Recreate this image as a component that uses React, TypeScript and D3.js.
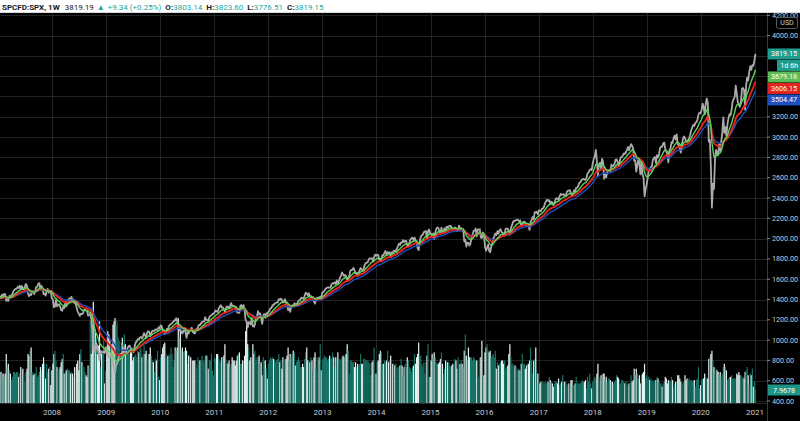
import React from 'react';
import * as d3 from 'd3';

// Weekly closes (SPCFD:SPX, 1W), one array per calendar year
const closes2007 = [1409,1431,1431,1422,1448,1438,1455,1451,1387,1402,1386,1436,1421,1443,1452,1484,1494,1505,1505,1523,1515,1536,1507,1533,1502,1503,1530,1553,1534,1459,1433,1453,1445,1479,1474,1454,1484,1525,1527,1557,1561,1501,1535,1509,1453,1458,1440,1481,1504,1467,1484,1478];
const closes2008 = [1411,1401,1325,1331,1395,1332,1350,1353,1331,1294,1289,1330,1316,1370,1333,1390,1398,1413,1389,1427,1376,1400,1361,1361,1318,1278,1262,1239,1260,1257,1261,1297,1298,1292,1283,1242,1252,1255,1213,1099,899,940,877,968,930,873,800,896,876,880,887,872];
const closes2009 = [931,890,850,832,826,869,827,770,735,683,756,769,816,843,857,870,866,877,929,882,887,919,940,946,921,918,896,879,940,979,987,1010,1005,1026,1029,1016,1042,1068,1044,1025,1072,1087,1080,1036,1069,1093,1091,1092,1106,1102,1102,1126,1115];
const closes2010 = [1145,1136,1091,1074,1066,1075,1109,1105,1139,1150,1159,1167,1178,1194,1192,1217,1187,1111,1136,1087,1089,1064,1092,1117,1076,1022,1078,1065,1102,1101,1122,1079,1071,1065,1105,1110,1125,1149,1147,1166,1176,1183,1183,1225,1199,1199,1190,1225,1240,1243,1257,1258];
const closes2011 = [1271,1293,1283,1276,1310,1329,1343,1320,1321,1304,1279,1313,1332,1328,1319,1337,1364,1340,1338,1333,1331,1300,1271,1271,1268,1340,1344,1316,1345,1292,1199,1179,1124,1177,1174,1154,1216,1136,1131,1155,1224,1238,1285,1253,1263,1216,1159,1244,1255,1219,1265,1258];
const closes2012 = [1278,1289,1315,1316,1345,1343,1361,1366,1370,1371,1404,1397,1408,1398,1370,1378,1403,1369,1353,1295,1318,1278,1325,1343,1335,1362,1355,1357,1363,1386,1391,1406,1418,1411,1407,1438,1466,1460,1441,1461,1428,1433,1412,1414,1380,1359,1409,1416,1418,1413,1430,1402];
const closes2013 = [1470,1472,1486,1503,1513,1518,1520,1516,1518,1552,1561,1556,1569,1553,1588,1555,1582,1614,1633,1667,1650,1631,1643,1626,1593,1606,1632,1680,1692,1692,1710,1691,1655,1664,1633,1655,1688,1710,1692,1691,1703,1745,1760,1762,1771,1798,1804,1806,1805,1775,1818,1841];
const closes2014 = [1831,1842,1838,1790,1783,1797,1838,1836,1859,1878,1841,1866,1857,1865,1815,1864,1863,1882,1878,1878,1900,1924,1950,1937,1963,1961,1985,1967,1978,1978,1925,1931,1955,1988,2003,2008,1985,2010,1982,1968,1906,1887,1965,2018,2032,2039,2064,2068,2075,2003,2071,2089];
const closes2015 = [2058,2044,2019,2051,1995,2055,2097,2110,2105,2071,2053,2108,2061,2067,2102,2081,2117,2108,2123,2123,2126,2107,2092,2094,2110,2102,2077,2077,2127,2079,2104,2078,2092,1971,1989,1921,1961,1958,1931,1951,2015,2033,2075,2079,2099,2023,2089,2090,2092,2012,2006,2061,2044];
const closes2016 = [1922,1880,1907,1940,1880,1865,1918,1948,1999,2022,2050,2035,2073,2048,2081,2092,2065,2057,2047,2052,2099,2099,2096,2071,2037,2103,2130,2162,2175,2174,2183,2184,2184,2169,2180,2128,2139,2165,2168,2153,2133,2141,2126,2085,2164,2182,2213,2192,2260,2258,2264,2239];
const closes2017 = [2277,2275,2271,2295,2297,2316,2351,2367,2383,2373,2378,2344,2363,2355,2329,2349,2384,2399,2391,2382,2416,2439,2432,2433,2438,2423,2425,2459,2473,2472,2476,2441,2426,2443,2477,2461,2500,2502,2519,2549,2553,2575,2581,2588,2582,2579,2602,2642,2652,2676,2684,2674];
const closes2018 = [2743,2786,2810,2873,2762,2620,2732,2747,2691,2786,2752,2588,2641,2604,2656,2670,2670,2663,2728,2713,2721,2735,2779,2780,2755,2718,2760,2801,2802,2819,2840,2833,2850,2875,2902,2872,2905,2930,2914,2886,2767,2768,2659,2723,2781,2736,2633,2760,2633,2600,2417,2486];
const closes2019 = [2532,2596,2671,2665,2707,2708,2776,2793,2804,2743,2822,2800,2834,2893,2907,2905,2940,2946,2881,2860,2826,2752,2873,2887,2950,2942,2990,3014,2977,3026,2932,2919,2889,2847,2926,2979,3007,2992,2962,2953,2970,2986,3023,3067,3093,3120,3110,3141,3146,3169,3221,3240];
const closes2020 = [3235,3265,3330,3295,3226,3328,3380,3338,2954,2972,2711,2305,2541,2489,2790,2875,2837,2831,2930,2864,2955,3044,3194,3041,3098,3009,3130,3185,3225,3216,3271,3351,3373,3397,3508,3427,3341,3319,3298,3348,3477,3484,3465,3270,3510,3585,3558,3638,3699,3663,3709,3703,3756];
const closes2021 = [3819.15];

// Weekly volume (billions)
const vol2007 = [18,17,19,19,18,18,16,18,30,22,24,20,18,14,16,19,19,18,19,19,16,18,22,20,21,18,13,19,21,30,29,32,34,19,17,18,18,22,16,17,19,22,20,24,28,24,15,24,19,21,22,11];
const vol2008 = [20,24,30,32,26,22,20,21,22,25,27,30,18,19,20,21,20,20,18,19,18,16,22,21,24,26,20,30,33,25,23,22,19,17,16,23,22,50,30,48,62,50,45,40,30,35,50,22,30,32,38,12];
const vol2009 = [20,32,44,42,38,37,36,48,50,52,47,50,40,38,30,37,40,36,42,36,32,30,32,30,34,31,26,28,29,30,28,32,31,33,34,28,30,35,30,32,26,30,30,34,29,26,25,19,27,26,32,16,14];
const vol2010 = [28,30,34,36,37,30,28,29,29,30,34,30,22,26,34,32,34,52,40,46,32,34,31,32,34,32,24,29,29,28,26,26,26,26,24,21,28,26,26,26,29,26,25,29,29,29,21,26,26,30,20,17];
const vol2011 = [28,27,30,30,28,26,25,28,28,29,36,26,25,24,26,22,24,28,26,26,23,26,29,30,31,24,24,26,26,29,44,50,36,34,26,28,28,36,30,32,26,28,28,29,24,25,17,28,26,26,21,15];
const vol2012 = [24,26,28,27,28,27,26,25,26,27,30,25,26,21,28,27,26,27,29,34,26,30,28,30,32,31,23,25,26,28,26,22,22,24,22,27,31,34,26,25,25,28,26,20,28,31,21,28,26,28,36,20];
const vol2013 = [26,27,29,28,28,26,27,29,28,27,31,28,22,28,27,31,26,27,26,28,29,28,29,30,36,32,18,26,26,25,25,22,25,22,24,23,24,30,24,24,27,27,26,26,26,25,24,17,25,26,34,18];
const vol2014 = [18,25,26,30,32,31,24,24,26,25,26,32,25,26,29,22,24,24,23,24,21,22,22,23,27,23,17,22,24,22,28,26,22,21,19,22,23,30,24,28,30,37,28,29,24,22,25,18,25,29,36,16];
const vol2015 = [16,26,30,28,31,28,25,24,24,25,27,31,24,18,21,26,25,25,25,23,22,23,24,23,27,26,21,28,24,24,26,24,22,32,42,29,26,34,28,28,28,26,28,27,26,26,26,16,28,28,38,16,17];
const vol2016 = [31,34,36,32,31,32,28,29,30,28,32,21,25,23,24,25,26,26,24,26,21,22,23,30,36,28,24,24,22,23,22,20,21,20,20,24,30,24,24,21,23,24,24,26,34,26,18,26,27,34,20,18];
const vol2017 = [12,12,13,12,13,12,13,12,13,13,16,14,13,12,10,12,13,13,12,15,11,12,13,17,13,13,10,12,11,12,12,14,14,11,11,12,16,12,12,12,12,13,14,13,13,14,9,16,13,18,12,9];
const vol2018 = [13,14,16,15,18,24,16,14,17,15,18,18,14,16,13,15,15,14,13,13,12,13,14,17,16,15,11,12,14,14,13,12,13,12,11,12,12,17,13,14,21,17,21,18,15,17,12,17,18,19,24,15];
const vol2019 = [17,15,16,14,15,13,14,13,14,14,16,15,13,12,12,10,12,13,16,15,12,14,14,13,16,14,9,12,13,13,17,17,15,13,12,12,13,17,14,15,14,15,14,14,13,14,14,10,14,15,22,9];
const vol2020 = [11,14,15,15,18,16,15,15,27,28,30,32,26,22,18,21,20,19,17,19,16,18,22,24,22,20,14,15,16,16,17,15,15,15,15,18,17,19,17,17,15,16,15,19,20,22,17,11,18,17,21,10,13];
const vol2021 = [7.9678];

const yearTicks = [2008,2009,2010,2011,2012,2013,2014,2015,2016,2017,2018,2019,2020,2021];
const priceTicks = [400,600,800,1000,1200,1400,1600,1800,2000,2200,2400,2600,2800,3000,3200,4000,4200];
const gridTicks = [400,600,800,1000,1200,1400,1600,1800,2000,2200,2400,2600,2800,3000,3200,3400,3600,3800,4000,4200];
const maPeriods = [10, 20, 30];
const maColors = ['#5fd35a', '#e5261d', '#1f50c2'];
const lastLabels = [
  { text: '3819.15', value: 3819.15, fill: '#1f9d8c' },
  { text: '1d 6h', value: null, fill: '#1f9d8c' },
  { text: '3679.18', value: 3679.18, fill: '#5cbd57' },
  { text: '3606.15', value: 3606.15, fill: '#e0261e' },
  { text: '3504.47', value: 3504.47, fill: '#1c4fbf' },
];
const headerItems = [
  { t: 'SPCFD:SPX, 1W', c: '#131722', b: true, dx: 0 },
  { t: '3819.19', c: '#131722', b: false, dx: 5 },
  { t: '▲', c: '#26a69a', b: false, dx: 3 },
  { t: '+9.34 (+0.25%)', c: '#26a69a', b: false, dx: 3 },
  { t: 'O:', c: '#131722', b: true, dx: 4 },
  { t: '3803.14', c: '#26a69a', b: false, dx: 0 },
  { t: 'H:', c: '#131722', b: true, dx: 4 },
  { t: '3823.60', c: '#26a69a', b: false, dx: 0 },
  { t: 'L:', c: '#131722', b: true, dx: 4 },
  { t: '3776.51', c: '#26a69a', b: false, dx: 0 },
  { t: 'C:', c: '#131722', b: true, dx: 4 },
  { t: '3819.15', c: '#26a69a', b: false, dx: 0 },
];

function ema(vals: number[], n: number) {
  const k = 2 / (n + 1);
  const out: number[] = [];
  let prev = vals[0];
  vals.forEach((v, i) => {
    prev = i === 0 ? v : v * k + prev * (1 - k);
    out.push(prev);
  });
  return out;
}

export default function App() {
  const W = 800, H = 421;
  const R = 767, T = 13, B = 403;
  const closes = [...closes2007, ...closes2008, ...closes2009, ...closes2010, ...closes2011, ...closes2012, ...closes2013, ...closes2014, ...closes2015, ...closes2016, ...closes2017, ...closes2018, ...closes2019, ...closes2020, ...closes2021];
  const volumes = [...vol2007, ...vol2008, ...vol2009, ...vol2010, ...vol2011, ...vol2012, ...vol2013, ...vol2014, ...vol2015, ...vol2016, ...vol2017, ...vol2018, ...vol2019, ...vol2020, ...vol2021];
  const start = new Date(2007, 0, 1);
  const dates = closes.map((_, i) => d3.timeDay.offset(start, i * 7));

  const x = d3.scaleTime().domain([new Date(2008, 0, 1), new Date(2021, 0, 1)]).range([52, 755]);
  const y = d3.scaleLinear().domain([400, 4000]).range([401, 35.6]);
  const yv = d3.scaleLinear().domain([0, 60]).range([B, 305]);

  const line = d3.line<number>().x((_, i) => x(dates[i])).y((d) => y(d));
  const mas = maPeriods.map((p) => ema(closes, p));

  let prevY = -Infinity;
  const labelPos = lastLabels.map((l) => {
    const target = l.value == null ? prevY + 11.5 : y(l.value);
    const cy = Math.max(target, prevY + 11.5);
    prevY = cy;
    return cy;
  });

  const font = 'Roboto, "Open Sans", sans-serif';
  const fs = 7.2;

  return (
    <svg width={W} height={H} style={{ position: 'fixed', left: 0, top: 0, background: '#000' }} fontFamily={font}>
      <defs>
        <clipPath id="plot"><rect x={0} y={T} width={R} height={B - T} /></clipPath>
      </defs>
      <rect x={0} y={0} width={W} height={H} fill="#000" />
      <g stroke="#232323" strokeWidth={1}>
        {gridTicks.map((v) => (
          <line key={'h' + v} x1={0} x2={R} y1={Math.round(y(v)) + 0.5} y2={Math.round(y(v)) + 0.5} />
        ))}
        {yearTicks.map((yr) => (
          <line key={'v' + yr} x1={Math.round(x(new Date(yr, 0, 1))) + 0.5} x2={Math.round(x(new Date(yr, 0, 1))) + 0.5} y1={T} y2={B} />
        ))}
      </g>
      <g clipPath="url(#plot)">
        {volumes.map((v, i) => {
          const up = i === 0 || closes[i] >= closes[i - 1];
          const xx = x(dates[i]);
          return (
            <rect key={'v' + i} x={xx - 0.6} y={yv(v)} width={1.2} height={B - yv(v)} fill={up ? '#177368' : '#e6f4f1'} />
          );
        })}
        <path d={line(closes) || ''} fill="none" stroke="#ababab" strokeWidth={1.8} strokeLinejoin="round" />
        {[2, 1, 0].map((k) => (
          <path key={'ma' + k} d={line(mas[k]) || ''} fill="none" stroke={maColors[k]} strokeWidth={k === 1 ? 1.9 : 1.4} />
        ))}
      </g>
      <line x1={R + 0.5} x2={R + 0.5} y1={T} y2={H} stroke="#3a3a3a" />
      <line x1={0} x2={R} y1={B + 0.5} y2={B + 0.5} stroke="#2a2a2a" />
      {priceTicks.map((v) => {
        const s = v.toFixed(2);
        return (
          <g key={'t' + v}>
            <line x1={R} x2={R + 3} y1={y(v)} y2={y(v)} stroke="#888" />
            <text x={772} y={y(v)} dy="0.35em" fontSize={fs} fill="#c8cbd2">{s}</text>
          </g>
        );
      })}
      <rect x={776.5} y={17.5} width={21} height={11} rx={2} fill="#000" stroke="#5a5a5a" />
      <text x={787} y={23} dy="0.35em" fontSize={7} fill="#c8cbd2" textAnchor="middle">USD</text>
      {lastLabels.map((l, i) => {
        const cy = labelPos[i];
        const isTimer = l.value == null;
        return (
          <g key={'l' + i}>
            <rect x={isTimer ? 777 : 768} y={cy - 5.5} width={isTimer ? 23 : 32} height={11} fill={l.fill} />
            <text x={isTimer ? 798 : 771} y={cy} dy="0.35em" fontSize={fs} fill="#fff" textAnchor={isTimer ? 'end' : 'start'}>{l.text}</text>
          </g>
        );
      })}
      <rect x={768} y={yv(vol2021[0]) - 5.5} width={32} height={11} fill="#1e9484" />
      <text x={773} y={yv(vol2021[0])} dy="0.35em" fontSize={fs} fill="#fff">{vol2021[0].toFixed(4)}</text>
      {yearTicks.map((yr) => (
        <text key={'x' + yr} x={x(new Date(yr, 0, 1))} y={412} dy="0.35em" fontSize={8} fill="#c8cbd2" textAnchor="middle">{yr}</text>
      ))}
      <rect x={0} y={0} width={W} height={T} fill="#fff" />
      <line x1={0} x2={W} y1={T - 0.5} y2={T - 0.5} stroke="#d6d8de" />
      <text x={2} y={9.5} fontSize={8}>
        {headerItems.map((h, i) => (
          <tspan key={'hd' + i} dx={h.dx} fill={h.c} fontWeight={h.b ? 700 : 400}>{h.t}</tspan>
        ))}
      </text>
    </svg>
  );
}
